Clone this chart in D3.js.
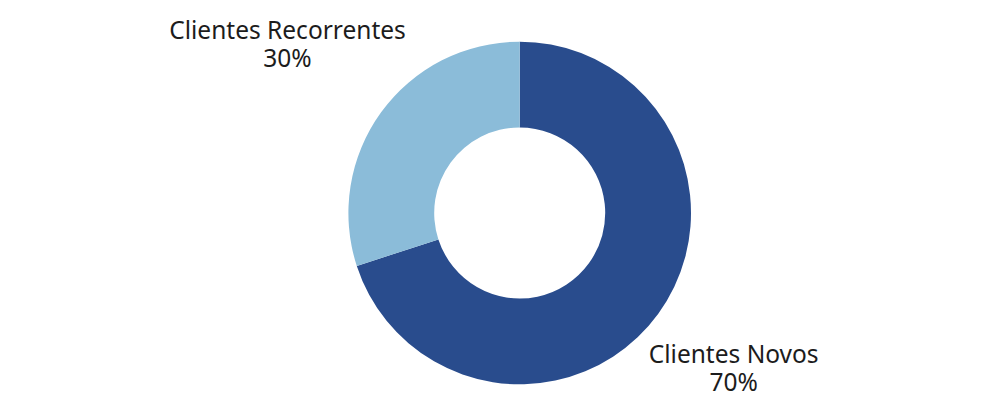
<!DOCTYPE html>
<html>
<head>
<meta charset="utf-8">
<script src="https://cdn.jsdelivr.net/npm/d3@7"></script>
<style>
  html, body { margin: 0; padding: 0; background: #ffffff; }
  svg { display: block; }
</style>
</head>
<body>
<svg id="chart" width="1000" height="400"></svg>
<script>
const categories = ["Clientes Novos", "Clientes Recorrentes"];
const values = [70, 30];
const percentLabels = ["70%", "30%"];
const colors = ["#294C8D", "#8BBCD9"];

const width = 1000, height = 400;
const cx = 519.7, cy = 213;
const outerR = 171.3, innerR = 85.5;
const labelGap = 183;
const fontSize = 24.5;
const lineGap = 28;

const svg = d3.select("#chart");
const g = svg.append("g").attr("transform", `translate(${cx},${cy})`);

const data = categories.map((c, i) => ({ name: c, value: values[i], pct: percentLabels[i], color: colors[i] }));
const pie = d3.pie().value(d => d.value).sort(null);
const arc = d3.arc().innerRadius(innerR).outerRadius(outerR);

const arcs = pie(data);
g.selectAll("path.slice")
  .data(arcs)
  .join("path")
  .attr("class", "slice")
  .attr("d", arc)
  .attr("fill", d => d.data.color);

// labels
arcs.forEach(a => {
  const mid = (a.startAngle + a.endAngle) / 2;
  const dx = Math.sin(mid), dy = -Math.cos(mid);
  const t = g.append("text")
    .attr("text-anchor", "middle")
    .attr("font-family", "'Noto Sans', 'Open Sans', sans-serif")
    .attr("font-size", fontSize)
    .attr("fill", "#1c1c1c");
  t.append("tspan").attr("x", 0).attr("y", 0).text(a.data.name);
  t.append("tspan").attr("x", 0).attr("y", lineGap).text(a.data.pct);
  const bb = t.node().getBBox();
  const capH = fontSize * 0.714;
  const w = bb.width, h = capH + lineGap + 5;
  let dist = 0;
  for (let s = 0; s < 600; s += 0.5) {
    const bx = s * dx, by = s * dy;
    const nx = Math.max(Math.abs(bx) - w / 2, 0);
    const ny = Math.max(Math.abs(by) - h / 2, 0);
    if (Math.hypot(nx, ny) >= labelGap) { dist = s; break; }
  }
  const px = dist * dx, py = dist * dy;
  const visCenter = (-capH + lineGap) / 2;
  t.attr("transform", `translate(${px},${py - visCenter})`);
});
</script>
</body>
</html>
